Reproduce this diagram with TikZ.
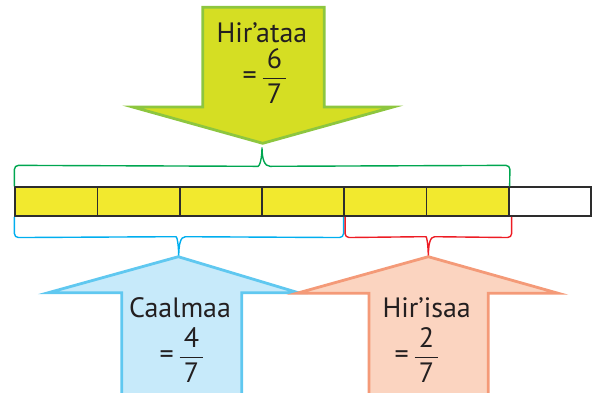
\documentclass[tikz,border=0pt]{standalone}
\usepackage{amsmath}
\usepackage{fontspec}
\setmainfont{PT Sans}
\usetikzlibrary{calc}

\definecolor{ink}{RGB}{35,31,32}
\definecolor{barline}{RGB}{45,45,45}
\definecolor{baryellow}{RGB}{242,233,46}
\definecolor{bracegreen}{RGB}{0,166,80}
\definecolor{braceblue}{RGB}{0,174,239}
\definecolor{bracered}{RGB}{237,28,36}
\definecolor{wholefill}{RGB}{213,222,35}
\definecolor{wholeline}{RGB}{141,198,63}
\definecolor{partfill}{RGB}{199,234,250}
\definecolor{partline}{RGB}{96,200,240}
\definecolor{restfill}{RGB}{251,212,192}
\definecolor{restline}{RGB}{244,154,120}

\newcommand{\sevenths}[1]{=\,$\genfrac{}{}{1.6pt}{0}{\,\mbox{#1}\,}{\,\mbox{7}\,}$}

\tikzstyle{cell} = [draw=barline, line width=1.8pt, fill=baryellow, minimum width=82.24pt, minimum height=28.7pt, inner sep=0pt]
\tikzstyle{wordtext} = [text=ink, font=\fontsize{28}{31}\selectfont, inner sep=0pt]
\tikzstyle{brace} = [line width=1.4pt, rounded corners=4pt]
\tikzstyle{bigarrow} = [line width=2.8pt, line join=miter]

\begin{document}
\begin{tikzpicture}[x=1pt,y=-1pt]
\useasboundingbox (0,0) rectangle (593,392);

% bar of sevenths
\foreach \i in {1,...,6}
  \node[cell] (c\i) at ({15.3+82.24*(\i-0.5)},201.6) {};
\node[cell, fill=white] (c7) at ({15.3+82.24*6.5},201.6) {};

% braces
\coordinate (gtip) at (262,147.5);
\coordinate (btip) at (178.7,258);
\coordinate (rtip) at (428.3,258);
\draw[brace, bracegreen] (c1.north west) -- ++(0,-21) -- (254,166.3) [sharp corners]
  .. controls (259.5,166.3) and (262,159) .. (gtip)
  .. controls (262,159) and (264.5,166.3) .. (270,166.3) [rounded corners=4pt]
  -- ($(c6.north east)+(0.3,-21)$) -- (c6.north east);
\draw[brace, braceblue] (c1.south west) -- ++(0,20.7) -- (172,236.7) [sharp corners]
  .. controls (177,236.7) and (178.7,244) .. (btip)
  .. controls (178.7,244) and (180.4,236.7) .. (185.4,236.7) [rounded corners=4pt]
  -- ($(c4.south east)+(-1.6,20.7)$) -- ($(c4.south east)+(-1.6,0)$);
\draw[brace, bracered] ($(c5.south west)+(1.7,0)$) -- ++(0,20.7) -- (422,236.7) [sharp corners]
  .. controls (426.6,236.7) and (428.3,244) .. (rtip)
  .. controls (428.3,244) and (430,236.7) .. (434.6,236.7) [rounded corners=4pt]
  -- ($(c6.south east)+(2,20.7)$) -- ($(c6.south east)+(2,0)$);

% arrows
\filldraw[bigarrow, draw=wholeline, fill=wholefill] (202.7,7.3) -- (324.3,7.3) -- (324.3,107)
  -- (393,107) -- (262.7,143.3) -- (132.7,107) -- (202.7,107) -- cycle;
\filldraw[bigarrow, draw=partline, fill=partfill] (178.3,256.7) -- (298.3,292.7) -- (241.7,292.7)
  -- (241.7,398) -- (121.7,398) -- (121.7,292.7) -- (48.3,292.7) -- cycle;
\filldraw[bigarrow, draw=restline, fill=restfill] (428.3,256.7) -- (558.3,293.3) -- (488.3,293.3)
  -- (488.3,398) -- (369,398) -- (369,293.3) -- (296.7,293.3) -- cycle;

% labels
\node[wordtext] (wholeName) at (262,33) {Hir’ataa};
\node[wordtext] (wholeFrac) at (265,76) {\sevenths{6}};
\node[wordtext] (partName) at (180,307.5) {Caalmaa};
\node[wordtext] (partFrac) at (182,355) {\sevenths{4}};
\node[wordtext] (restName) at (426.7,307.5) {Hir’isaa};
\node[wordtext] (restFrac) at (417,355) {\sevenths{2}};
\end{tikzpicture}
\end{document}
